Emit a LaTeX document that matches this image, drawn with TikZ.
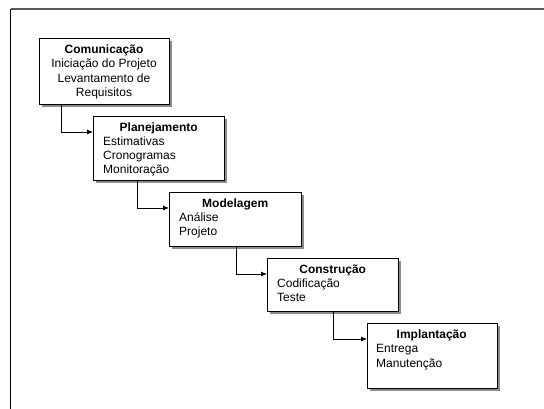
\documentclass[tikz,border=0pt]{standalone}
\usepackage{fontspec}
\setmainfont{Liberation Sans}
\usetikzlibrary{calc,shadows,arrows.meta}
\begin{document}
\begin{tikzpicture}[x=1pt,y=-1pt,
  box/.style={draw=black, line width=0.9pt, fill=white, anchor=north west, inner sep=0pt, outer sep=0pt,
    drop shadow={shadow xshift=3pt, shadow yshift=-3pt, fill=black!45, opacity=1}},
  txt/.style={anchor=north west, inner sep=0pt, align=left, font=\fontsize{12}{14.2}\selectfont},
  ctxt/.style={anchor=north, inner sep=0pt, align=center, font=\fontsize{12}{14.2}\selectfont},
  conn/.style={draw=black, line width=0.8pt, -{Latex[length=6pt,width=5pt]}},
  frametop/.style={draw=black!65, line width=1.4pt},
  frameleft/.style={draw=black, line width=1pt}
]
\useasboundingbox (0,0) rectangle (544,409);
% outer frame
\coordinate (ftl) at (10.5,9);
\coordinate (ftr) at (544,9);
\coordinate (fbl) at (10.5,409);
\draw[frametop] (ftl) -- (ftr);
\draw[frameleft] (ftl) -- (fbl);

% boxes
\node[box, minimum width=130pt, minimum height=66pt] (com) at (39,38) {};
\node[box, minimum width=131pt, minimum height=64pt] (plan) at (93,116) {};
\node[box, minimum width=132pt, minimum height=54pt] (model) at (169,192) {};
\node[box, minimum width=131pt, minimum height=53pt] (constr) at (267,258) {};
\node[box, minimum width=130pt, minimum height=65pt] (impl) at (367,323) {};

% texts
\node[ctxt] (comt) at ($(com.north)+(0,5.5)$)
  {\rule{0pt}{10pt}\textbf{Comunicação}\\Iniciação do Projeto\\Levantamento de\\Requisitos};
\node[txt, text width=111pt] (plant) at ($(plan.north west)+(10,5)$)
  {\makebox[\linewidth]{\rule{0pt}{10pt}\textbf{Planejamento}}\\Estimativas\\Cronogramas\\Monitoração};
\node[txt, text width=112pt] (modelt) at ($(model.north west)+(10,5)$)
  {\makebox[\linewidth]{\rule{0pt}{10pt}\textbf{Modelagem}}\\Análise\\Projeto};
\node[txt, text width=111pt] (constrt) at ($(constr.north west)+(10,5)$)
  {\makebox[\linewidth]{\rule{0pt}{10pt}\textbf{Construção}}\\Codificação\\Teste};
\node[txt, text width=111pt] (implt) at ($(impl.north west)+(9,5.5)$)
  {\makebox[\linewidth]{\rule{0pt}{10pt}\textbf{Implantação}}\\Entrega\\Manutenção};

% connectors
\draw[conn] ($(com.south west)+(22,0)$) |- ($(plan.north west)+(0,16)$);
\draw[conn] ($(plan.south west)+(44,0)$) |- ($(model.north west)+(0,16)$);
\draw[conn] ($(model.south west)+(67,0)$) |- ($(constr.north west)+(0,16)$);
\draw[conn] ($(constr.south west)+(66,0)$) |- ($(impl.north west)+(0,16)$);
\end{tikzpicture}
\end{document}
